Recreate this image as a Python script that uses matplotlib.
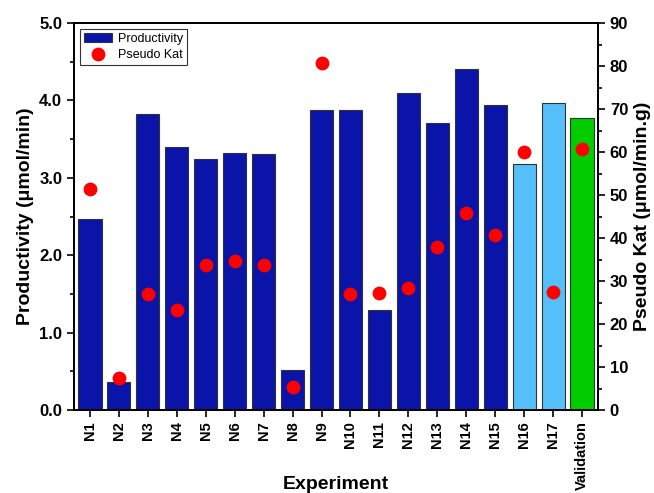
import matplotlib
matplotlib.use("Agg")
import matplotlib.pyplot as plt
from matplotlib.ticker import MultipleLocator
import numpy as np

plt.rcParams['font.family'] = ['Liberation Sans', 'DejaVu Sans']
plt.rcParams['font.weight'] = 'bold'

experiments = ["N1", "N2", "N3", "N4", "N5", "N6", "N7", "N8", "N9", "N10",
               "N11", "N12", "N13", "N14", "N15", "N16", "N17", "Validation"]
productivity = [2.47, 0.36, 3.82, 3.40, 3.24, 3.32, 3.31, 0.52, 3.88, 3.88,
                1.29, 4.10, 3.71, 4.40, 3.94, 3.18, 3.97, 3.77]
pseudo_kat = [51.5, 7.5, 27.0, 23.3, 33.7, 34.6, 33.7, 5.3, 80.8, 27.0,
              27.3, 28.3, 37.8, 45.7, 40.7, 60.0, 27.5, 60.8]
bar_colors = ["#0A14A8"] * 15 + ["#55BFFA"] * 2 + ["#00CC00"]

fig = plt.figure(figsize=(6.54, 4.93), dpi=100)
ax = fig.add_axes([74/654, 1-410/493, (598-74)/654, (410-23)/493])
x = np.arange(len(experiments))
ax.bar(x, productivity, width=0.8, color=bar_colors, edgecolor="#333333",
       linewidth=0.8, label="Productivity")
ax.set_ylim(0, 5.0)
ax.set_xlim(-0.55, len(experiments) - 0.45)
ax.yaxis.set_major_locator(MultipleLocator(1.0))
ax.yaxis.set_minor_locator(MultipleLocator(0.5))
ax.set_yticks([0, 1, 2, 3, 4, 5])
ax.set_yticklabels(["0.0", "1.0", "2.0", "3.0", "4.0", "5.0"], fontsize=12, fontweight='bold')
ax.set_xticks(x)
ax.set_xticklabels(experiments, rotation=90, fontsize=10.5, fontweight='bold')
ax.tick_params(axis='both', which='major', direction='out', length=5, width=1.2)
ax.tick_params(axis='x', which='major', pad=3)
ax.tick_params(axis='y', which='minor', direction='out', length=3, width=1.2)
for s in ax.spines.values():
    s.set_linewidth(1.3)
ax.set_ylabel("Productivity (\u03bcmol/min)", fontsize=14, fontweight='bold')
ax.set_xlabel("Experiment", fontsize=14, fontweight='bold')
ax.xaxis.set_label_coords(0.5, -0.17)

ax2 = ax.twinx()
ax2.scatter(x, pseudo_kat, s=80, color="#FF0000", zorder=5, label="Pseudo Kat")
ax2.set_ylim(0, 90)
ax2.yaxis.set_major_locator(MultipleLocator(10))
ax2.yaxis.set_minor_locator(MultipleLocator(5))
ax2.tick_params(axis='y', which='major', direction='out', length=5, width=1.2, labelsize=12)
ax2.tick_params(axis='y', which='minor', direction='out', length=3, width=1.2)
for lbl in ax2.get_yticklabels():
    lbl.set_fontweight('bold')
ax2.set_ylabel("Pseudo Kat (\u03bcmol/min.g)", fontsize=14, fontweight='bold')
for s in ax2.spines.values():
    s.set_linewidth(1.3)

h1, l1 = ax.get_legend_handles_labels()
h2, l2 = ax2.get_legend_handles_labels()
leg = ax2.legend(h1[:1] + h2, l1[:1] + l2, loc='upper left',
                 frameon=True, fancybox=False, edgecolor='black',
                 borderpad=0.3, handletextpad=0.5, borderaxespad=0.5,
                 handlelength=2.2, labelspacing=0.3,
                 prop={'weight': 'normal', 'size': 9})
leg.get_frame().set_linewidth(0.8)

fig.savefig("out.png", dpi=100)
